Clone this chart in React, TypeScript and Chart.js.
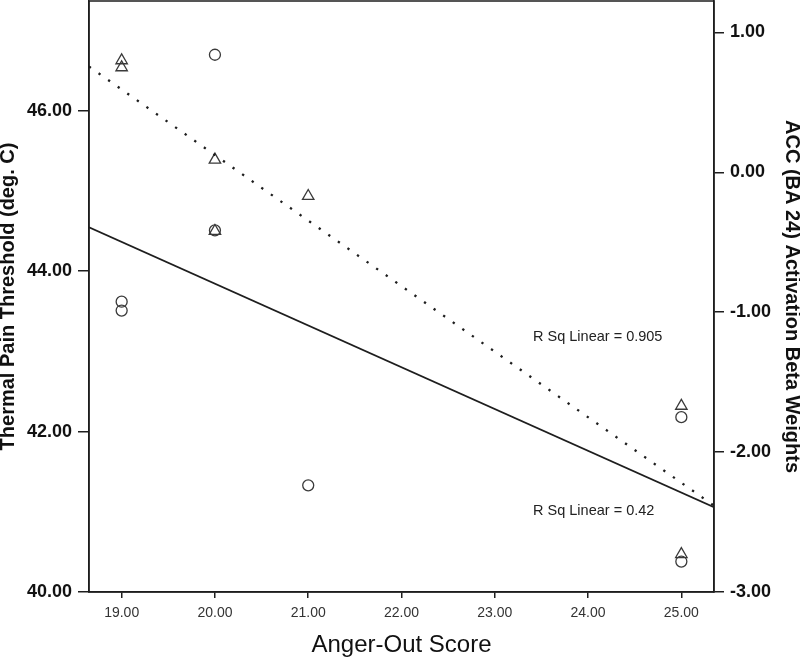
import React, { useEffect, useRef } from "react";
import { Chart, registerables } from "chart.js";

Chart.register(...registerables);

// ---- data ----
const angerScores = [19, 19, 20, 20, 21, 25, 25];
const thermalThreshold = [43.62, 43.51, 46.7, 44.51, 41.33, 42.18, 40.38];
const accBeta = [0.8, 0.75, 0.09, -0.42, -0.17, -1.67, -2.73];

const xTicks = [19, 20, 21, 22, 23, 24, 25];
const leftTicks = [40, 42, 44, 46];
const rightTicks = [-3, -2, -1, 0, 1];

const xRange = [18.65, 25.35];
const leftRange = [40, 47.37];
const rightRange = [-3, 1.225];

const rSqTexts = ["R Sq Linear = 0.905", "R Sq Linear = 0.42"];
const rSqAnchors = [
  { x: 23.41, y: -1.18, axis: "y2" },
  { x: 23.41, y: 41.01, axis: "y" },
];

const FONT = "'Liberation Sans', Arial, Helvetica, sans-serif";
const INK = "#1e1e1e";

function linearFit(xs: number[], ys: number[]) {
  const n = xs.length;
  const mx = xs.reduce((a, b) => a + b, 0) / n;
  const my = ys.reduce((a, b) => a + b, 0) / n;
  let sxy = 0;
  let sxx = 0;
  for (let i = 0; i < n; i++) {
    sxy += (xs[i] - mx) * (ys[i] - my);
    sxx += (xs[i] - mx) * (xs[i] - mx);
  }
  const slope = sxy / sxx;
  const intercept = my - slope * mx;
  return (x: number) => intercept + slope * x;
}

const frameAndLabels = {
  id: "frameAndLabels",
  afterDatasetsDraw(chart: any) {
    const { ctx, chartArea } = chart;
    ctx.save();
    ctx.strokeStyle = INK;
    ctx.lineWidth = 1.5;
    ctx.strokeRect(
      chartArea.left,
      chartArea.top,
      chartArea.right - chartArea.left,
      chartArea.bottom - chartArea.top
    );
    ctx.fillStyle = "#222";
    ctx.font = `14.5px ${FONT}`;
    ctx.textAlign = "left";
    ctx.textBaseline = "middle";
    rSqAnchors.forEach((a, i) => {
      const px = chart.scales.x.getPixelForValue(a.x);
      const py = chart.scales[a.axis].getPixelForValue(a.y);
      ctx.fillText(rSqTexts[i], px, py);
    });
    ctx.restore();
  },
};

const fmt = (v: any) => Number(v).toFixed(2);

export default function App() {
  const ref = useRef<HTMLCanvasElement | null>(null);

  useEffect(() => {
    if (!ref.current) return;
    const fitThermal = linearFit(angerScores, thermalThreshold);
    const fitAcc = linearFit(angerScores, accBeta);

    const gridCommon = (len: number) => ({
      drawOnChartArea: false,
      drawTicks: true,
      tickLength: len,
      color: INK,
      lineWidth: 1.5,
    });
    const borderCommon = { display: true, color: INK, width: 1.5 };

    const chart = new Chart(ref.current, {
      type: "scatter",
      data: {
        datasets: [
          {
            label: "Thermal fit",
            data: xRange.map((x) => ({ x, y: fitThermal(x) })),
            yAxisID: "y",
            showLine: true,
            borderColor: INK,
            borderWidth: 1.8,
            pointRadius: 0,
          },
          {
            label: "ACC fit",
            data: xRange.map((x) => ({ x, y: fitAcc(x) })),
            yAxisID: "y2",
            showLine: true,
            borderColor: INK,
            borderWidth: 2.3,
            borderDash: [2.3, 9.4],
            pointRadius: 0,
          },
          {
            label: "Thermal Pain Threshold",
            data: angerScores.map((x, i) => ({ x, y: thermalThreshold[i] })),
            yAxisID: "y",
            pointStyle: "circle",
            pointRadius: 5.5,
            borderColor: "#3a3a3a",
            backgroundColor: "rgba(0,0,0,0)",
            borderWidth: 1.3,
          },
          {
            label: "ACC Beta",
            data: angerScores.map((x, i) => ({ x, y: accBeta[i] })),
            yAxisID: "y2",
            pointStyle: "triangle",
            pointRadius: 6.6,
            borderColor: "#3a3a3a",
            backgroundColor: "rgba(0,0,0,0)",
            borderWidth: 1.3,
          },
        ],
      },
      options: {
        responsive: false,
        animation: false,
        devicePixelRatio: 1,
        layout: {
          autoPadding: false,
          padding: { top: 1, left: 0, right: 0, bottom: 0 },
        },
        plugins: {
          legend: { display: false },
          tooltip: { enabled: false },
        },
        font: { family: FONT },
        scales: {
          x: {
            type: "linear",
            position: "bottom",
            min: xRange[0],
            max: xRange[1],
            afterBuildTicks: (axis: any) => {
              axis.ticks = xTicks.map((v) => ({ value: v }));
            },
            afterFit: (axis: any) => {
              axis.height = 68;
              axis.paddingLeft = 0;
              axis.paddingRight = 0;
            },
            ticks: {
              callback: fmt,
              autoSkip: false,
              maxRotation: 0,
              color: "#333",
              padding: 7,
              font: { family: FONT, size: 14 },
            },
            grid: gridCommon(6),
            border: borderCommon,
            title: {
              display: true,
              text: "Anger-Out Score",
              color: "#111",
              font: { family: FONT, size: 24, lineHeight: 1 },
              padding: { top: 0, bottom: 3 },
            },
          },
          y: {
            type: "linear",
            position: "left",
            min: leftRange[0],
            max: leftRange[1],
            afterBuildTicks: (axis: any) => {
              axis.ticks = leftTicks.map((v) => ({ value: v }));
            },
            afterFit: (axis: any) => {
              axis.width = 89;
              axis.paddingTop = 0;
              axis.paddingBottom = 0;
            },
            ticks: {
              callback: fmt,
              color: "#111",
              padding: 6,
              font: { family: FONT, size: 18, weight: "bold" },
            },
            grid: gridCommon(11),
            border: borderCommon,
            title: {
              display: true,
              text: "Thermal Pain Threshold (deg. C)",
              color: "#111",
              font: { family: FONT, size: 20, weight: "bold", lineHeight: 1 },
              padding: { top: -2, bottom: 0 },
            },
          },
          y2: {
            type: "linear",
            position: "right",
            min: rightRange[0],
            max: rightRange[1],
            afterBuildTicks: (axis: any) => {
              axis.ticks = rightTicks.map((v) => ({ value: v }));
            },
            afterFit: (axis: any) => {
              axis.width = 86;
              axis.paddingTop = 0;
              axis.paddingBottom = 0;
            },
            ticks: {
              callback: fmt,
              color: "#111",
              padding: 6,
              font: { family: FONT, size: 18, weight: "bold" },
            },
            grid: gridCommon(10),
            border: borderCommon,
            title: {
              display: true,
              text: "ACC (BA 24) Activation Beta Weights",
              color: "#111",
              font: { family: FONT, size: 20, weight: "bold", lineHeight: 1 },
              padding: { top: -2, bottom: 0 },
            },
          },
        },
      } as any,
      plugins: [frameAndLabels],
    });

    return () => chart.destroy();
  }, []);

  return (
    <div
      style={{
        position: "absolute",
        left: 0,
        top: 0,
        width: 800,
        height: 660,
        background: "#fff",
      }}
    >
      <canvas ref={ref} width={800} height={660} style={{ display: "block" }} />
    </div>
  );
}
